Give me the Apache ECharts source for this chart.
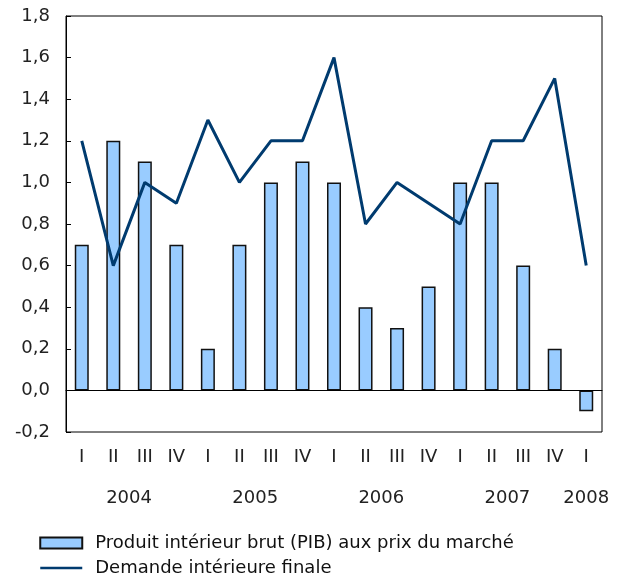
<!DOCTYPE html>
<html>
<head>
<meta charset="utf-8">
<script src="https://cdn.jsdelivr.net/npm/echarts@6/dist/echarts.min.js"></script>
<style>
  html, body { margin: 0; padding: 0; background: #fff; }
  #chart { width: 618px; height: 582px; }
</style>
</head>
<body>
<div id="chart"></div>
<script>
// trimestres et années
var quarters = ['I', 'II', 'III', 'IV', 'I', 'II', 'III', 'IV', 'I', 'II', 'III', 'IV', 'I', 'II', 'III', 'IV', 'I'];
var quarterYears = ['2004', '2004', '2004', '2004', '2005', '2005', '2005', '2005',
  '2006', '2006', '2006', '2006', '2007', '2007', '2007', '2007', '2008'];

// séries (variation en %)
var pibValues = [0.7, 1.2, 1.1, 0.7, 0.2, 0.7, 1.0, 1.1, 1.0, 0.4, 0.3, 0.5, 1.0, 1.0, 0.6, 0.2, -0.1];
var demandeValues = [1.2, 0.6, 1.0, 0.9, 1.3, 1.0, 1.2, 1.2, 1.6, 0.8, 1.0, 0.9, 0.8, 1.2, 1.2, 1.5, 0.6];

var pibName = 'Produit intérieur brut (PIB) aux prix du marché';
var demandeName = 'Demande intérieure finale';

// position centrale de chaque année sur l'axe (en nombre de trimestres)
var years = [];
var yearCenters = [];
quarterYears.forEach(function (y, i) {
  var k = years.indexOf(y);
  if (k < 0) {
    years.push(y);
    yearCenters.push({ first: i, last: i });
  } else {
    yearCenters[k].last = i;
  }
});
var yearTicks = yearCenters.map(function (c) { return (c.first + c.last + 1) / 2; });

var fontFam = '"DejaVu Sans", sans-serif';

var chart = echarts.init(document.getElementById('chart'));

chart.setOption({
  animation: false,
  grid: {
    left: 66, right: 16, top: 16, bottom: 150,
    show: true, borderColor: '#000', borderWidth: 1
  },
  legend: {
    orient: 'vertical',
    left: 39,
    top: 534,
    padding: 0,
    itemWidth: 42,
    itemHeight: 11,
    itemGap: 7,
    textStyle: { fontFamily: fontFam, fontSize: 18, color: '#111', lineHeight: 18, padding: [0, 0, 0, 8] },
    data: [
      { name: pibName, icon: 'rect' },
      { name: demandeName, itemStyle: { opacity: 0 }, lineStyle: { width: 2.5 } }
    ]
  },
  xAxis: [{
    type: 'category',
    data: quarters,
    boundaryGap: true,
    axisLine: { lineStyle: { color: '#000', width: 1 } },
    axisTick: { inside: true, length: 5, interval: 0, lineStyle: { color: '#000' } },
    axisLabel: { interval: 0, margin: 16, fontFamily: fontFam, fontSize: 18, color: '#222' }
  }, {
    type: 'value',
    min: 0,
    max: quarters.length,
    position: 'bottom',
    axisLine: { show: false },
    axisTick: { show: false },
    splitLine: { show: false },
    axisLabel: {
      customValues: yearTicks,
      margin: 57,
      fontFamily: fontFam, fontSize: 18, color: '#222',
      formatter: function (v) {
        var k = yearTicks.indexOf(v);
        return k >= 0 ? years[k] : '';
      }
    }
  }],
  yAxis: {
    type: 'value',
    min: -0.2,
    max: 1.8,
    interval: 0.2,
    axisLine: { show: true, lineStyle: { color: '#000', width: 1 } },
    axisTick: { show: true, inside: true, length: 5, lineStyle: { color: '#000' } },
    splitLine: { show: false },
    axisLabel: {
      margin: 16,
      fontFamily: fontFam, fontSize: 18, color: '#222',
      formatter: function (v) { return v.toFixed(1).replace('.', ','); }
    }
  },
  series: [{
    name: pibName,
    type: 'bar',
    data: pibValues,
    barWidth: 14,
    itemStyle: { color: '#99ccff', borderColor: '#111', borderWidth: 1.5 },
    markLine: {
      silent: true,
      symbol: 'none',
      label: { show: false },
      lineStyle: { color: '#000', width: 1, type: 'solid' },
      data: [{ yAxis: 0 }]
    }
  }, {
    name: demandeName,
    type: 'line',
    data: demandeValues,
    symbol: 'none',
    lineStyle: { color: '#003b6f', width: 3 },
    itemStyle: { color: '#003b6f' },
    z: 3
  }]
});
</script>
</body>
</html>
